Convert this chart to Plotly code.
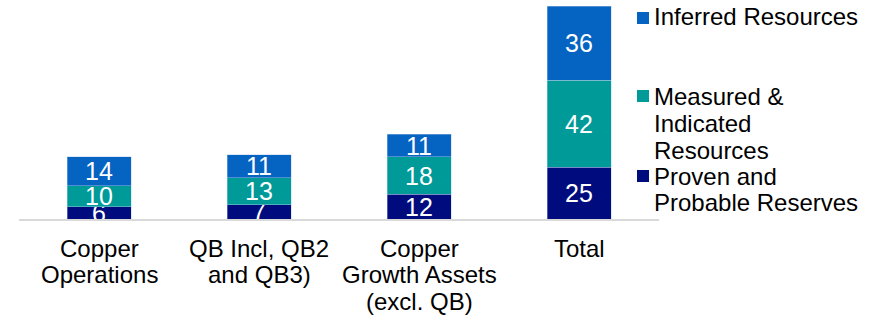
import plotly.graph_objects as go

categories = ["Copper Operations", "QB Incl, QB2 and QB3)", "Copper Growth Assets (excl. QB)", "Total"]
category_lines = [["Copper", "Operations"], ["QB Incl, QB2", "and QB3)"],
                  ["Copper", "Growth Assets", "(excl. QB)"], ["Total"]]
proven = [6, 7, 12, 25]
measured = [10, 13, 18, 42]
inferred = [14, 11, 11, 36]

series_names = ["Proven and Probable Reserves", "Measured & Indicated Resources", "Inferred Resources"]
series_values = [proven, measured, inferred]
colors = ["#000C7E", "#009A99", "#0563C1"]

legend_lines = {
    "Inferred Resources": ["Inferred Resources"],
    "Measured & Indicated Resources": ["Measured &", "Indicated", "Resources"],
    "Proven and Probable Reserves": ["Proven and", "Probable Reserves"],
}

FONT = "Liberation Sans, Arial"

fig = go.Figure()
for name, vals, col in zip(series_names, series_values, colors):
    fig.add_trace(go.Bar(
        x=categories, y=vals, name=name,
        marker=dict(color=col, line=dict(width=0.6, color="rgba(180,205,235,0.7)")),
        text=vals, textposition="inside", insidetextanchor="middle",
        textangle=0, constraintext="none", cliponaxis=True,
        textfont=dict(color="white", size=25, family=FONT),
        showlegend=False,
    ))

W, H = 875, 317
L, R, T, B = 19, 216, 6, 98
pw, ph = W - L - R, H - T - B

def px_to_paper(xp, yp):
    return (xp - L) / pw, (H - B - yp) / ph

line_h = 26.5
annotations = []
shapes = []

for cat, lines in zip(categories, category_lines):
    for i, ln in enumerate(lines):
        _, yp = px_to_paper(0, 248 + i * line_h)
        annotations.append(dict(
            x=cat, xref="x", y=yp, yref="paper", text=ln, showarrow=False,
            xanchor="center", yanchor="middle",
            font=dict(size=24, color="#000000", family=FONT),
        ))

legend_pos = {
    "Inferred Resources": (17, 18),
    "Measured & Indicated Resources": (97, 96),
    "Proven and Probable Reserves": (176, 176),
}
for name, col in zip(series_names, colors):
    y0, sq = legend_pos[name]
    for i, ln in enumerate(legend_lines[name]):
        xp, yp = px_to_paper(652, y0 + i * line_h)
        annotations.append(dict(
            x=xp, y=yp, xref="paper", yref="paper", text=ln, showarrow=False,
            xanchor="left", yanchor="middle",
            font=dict(size=24, color="#000000", family=FONT),
        ))
    xa, ya = px_to_paper(637, sq - 6)
    xb, yb = px_to_paper(649, sq + 6)
    shapes.append(dict(type="rect", xref="paper", yref="paper", x0=xa, x1=xb, y0=yb, y1=ya,
                       fillcolor=col, line=dict(width=0)))

fig.update_layout(
    barmode="stack",
    bargap=0.6,
    width=W, height=H,
    margin=dict(l=L, r=R, t=T, b=B, pad=0, autoexpand=False),
    paper_bgcolor="white", plot_bgcolor="white",
    font=dict(family=FONT, color="#000000"),
    xaxis=dict(showline=True, linecolor="#D9D9D9", linewidth=2, showgrid=False,
               ticks="", showticklabels=False, automargin=False, fixedrange=True),
    yaxis=dict(visible=False, range=[0, 103], showgrid=False, zeroline=False,
               automargin=False, fixedrange=True),
    annotations=annotations,
    shapes=shapes,
    showlegend=False,
)

fig.write_html("out.html", config={"displayModeBar": False},
               post_script="document.body.style.margin='0';document.body.style.overflow='hidden';")
